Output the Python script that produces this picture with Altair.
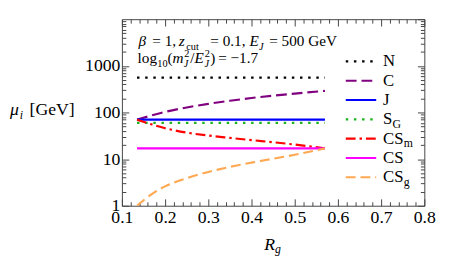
import altair as alt
import pandas as pd

# ---------------- data ----------------
rg = [0.135, 0.17, 0.2, 0.25, 0.3, 0.35, 0.4, 0.45, 0.5, 0.57]
mu_N = [560, 560, 560, 560, 560, 560, 560, 560, 560, 560]
mu_C = [70, 87, 103, 128, 153, 178, 204, 229, 254, 290]
mu_J = [70, 70, 70, 70, 70, 70, 70, 70, 70, 70]
mu_SG = [60, 60, 60, 60, 60, 60, 60, 60, 60, 60]
mu_CSm = [70, 55, 46, 37, 32, 28.5, 25.5, 23, 20.5, 17]
mu_CS = [17, 17, 17, 17, 17, 17, 17, 17, 17, 17]
mu_CSg = [1.0, 1.8, 2.6, 3.9, 5.3, 6.8, 8.4, 10.2, 12.4, 17]

series = ["N", "C", "J", "SG", "CSm", "CS", "CSg"]
values = [mu_N, mu_C, mu_J, mu_SG, mu_CSm, mu_CS, mu_CSg]
legend_main = ["N", "C", "J", "S", "CS", "CS", "CS"]
legend_sub = ["", "", "", "G", "m", "", "g"]

x_major = [0.1, 0.2, 0.3, 0.4, 0.5, 0.6, 0.7, 0.8]
x_minor = [round(0.1 + 0.02 * i, 2) for i in range(36) if i % 5 != 0]
y_major = [1, 10, 100, 1000]
y_minor = [m * 10 ** k for k in range(4) for m in range(2, 10)]

# ---------------- styles ----------------
colors = ["#000000", "#800080", "#0000FF", "#1DB31D", "#FF0000", "#FF00FF", "#FFA852"]
dashes = [[2.5, 5.8], [11, 5], [1, 0], [2.5, 5.8], [10, 4, 2.5, 4], [1, 0], [10, 5]]
FONT = "Liberation Serif"
FRAME = "#444444"

rows = []
for s, v in zip(series, values):
    for r, m in zip(rg, v):
        rows.append({"series": s, "rg": r, "mu": m})
df = pd.DataFrame(rows)

leg = pd.DataFrame({"series": series, "row": list(range(len(series))),
                    "main": legend_main, "sub": legend_sub,
                    "nlen": [len(m) for m in legend_main]})

xs = alt.Scale(domain=[0.1, 0.8], nice=False, zero=False)
ys = alt.Scale(type="log", domain=[1, 10000], nice=False)
cscale = alt.Scale(domain=series, range=colors)
dscale = alt.Scale(domain=series, range=dashes)

layers = []
for s in series:
    layers.append(
        alt.Chart(df).transform_filter(alt.datum.series == s)
        .mark_line(strokeWidth=2.2, interpolate="monotone", clip=True)
        .encode(
            x=alt.X("rg:Q", scale=xs, axis=None),
            y=alt.Y("mu:Q", scale=ys, axis=None),
            color=alt.Color("series:N", scale=cscale, legend=None),
            strokeDash=alt.StrokeDash("series:N", scale=dscale, legend=None),
        )
    )


def axis_layer(xaxis, yaxis):
    return alt.Chart(df).mark_point(opacity=0).encode(
        x=alt.X("rg:Q", scale=xs, axis=xaxis),
        y=alt.Y("mu:Q", scale=ys, axis=yaxis),
    )


common = dict(grid=False, domain=False, title=None, tickColor=FRAME, tickWidth=1,
              labelFont=FONT, labelFontSize=18, labelColor="black")

layers.append(axis_layer(
    alt.Axis(orient="bottom", values=x_major, format=".1f", tickSize=7, offset=-7,
             labelPadding=3, labelFlush=False, labelOverlap=False, **common),
    alt.Axis(orient="left", values=y_major, format="d", tickSize=7, offset=-7,
             labelPadding=2, labelOverlap=False, labelFlush=False, **common),
))
layers.append(axis_layer(
    alt.Axis(orient="bottom", values=x_minor, tickSize=4, offset=-4, labels=False, **common),
    alt.Axis(orient="left", values=y_minor, tickSize=4, offset=-4, labels=False, **common),
))
layers.append(axis_layer(
    alt.Axis(orient="top", values=x_major, tickSize=7, offset=-7, labels=False, **common),
    alt.Axis(orient="right", values=y_major + [10000], tickSize=7, offset=-7, labels=False, **common),
))
layers.append(axis_layer(
    alt.Axis(orient="top", values=x_minor, tickSize=4, offset=-4, labels=False, **common),
    alt.Axis(orient="right", values=y_minor, tickSize=4, offset=-4, labels=False, **common),
))

# legend
ly = alt.Scale(domain=[0, 6], range=[43, 161])
layers.append(
    alt.Chart(leg).mark_rule(strokeWidth=2.2).encode(
        x=alt.value(228), x2=alt.value(259),
        y=alt.Y("row:Q", scale=ly, axis=None),
        color=alt.Color("series:N", scale=cscale, legend=None),
        strokeDash=alt.StrokeDash("series:N", scale=dscale, legend=None),
    )
)
layers.append(
    alt.Chart(leg).mark_text(font=FONT, fontSize=17, align="left", baseline="middle", color="black").encode(
        x=alt.value(266), y=alt.Y("row:Q", scale=ly, axis=None), text="main:N")
)
layers.append(
    alt.Chart(leg).transform_filter(alt.datum.nlen == 1)
    .mark_text(font=FONT, fontSize=12, align="left", baseline="middle", dy=5, color="black").encode(
        x=alt.value(275.5), y=alt.Y("row:Q", scale=ly, axis=None), text="sub:N")
)
layers.append(
    alt.Chart(leg).transform_filter(alt.datum.nlen == 2)
    .mark_text(font=FONT, fontSize=12, align="left", baseline="middle", dy=5, color="black").encode(
        x=alt.value(287), y=alt.Y("row:Q", scale=ly, axis=None), text="sub:N")
)

# annotation / title pieces: (text, x, baseline y, size, italic)
A = 15.5
S = 10.5
pieces = [
    ("β", 17, 27, A, True), ("= 1,", 31, 27, A, False),
    ("z", 58, 27, A, True), ("cut", 65.5, 31, S, False),
    ("= 0.1,", 90, 27, A, False),
    ("E", 130, 27, A, True), ("J", 139.5, 31, S, True),
    ("= 500 GeV", 150, 27, A, False),
    ("log", 16, 45, A, False), ("10", 36, 49, S, False),
    ("(", 46.5, 45, A, False), ("m", 51.5, 45, A, True),
    ("2", 63.5, 38.5, S, False), ("J", 63, 49, S, True),
    ("/", 69.5, 45, A, False), ("E", 74, 45, A, True),
    ("2", 84.5, 38.5, S, False), ("J", 84, 49, S, True),
    (")", 90, 45, A, False), ("= −1.7", 98, 45, A, False),
    ("μ", -114, 98, 18, True), ("i", -104, 102, 12, True), ("[GeV]", -94, 98, 18, False),
    ("R", 145, 235, 18, True), ("g", 156, 238, 12, True),
]
for t, px, py, sz, it in pieces:
    layers.append(
        alt.Chart(pd.DataFrame({"t": [t]})).mark_text(
            font=FONT, fontSize=sz, fontStyle="italic" if it else "normal",
            align="left", baseline="alphabetic", color="black"
        ).encode(x=alt.value(px), y=alt.value(py), text="t:N")
    )

chart = alt.layer(*layers).resolve_scale(
    x="independent", y="independent", color="shared", strokeDash="shared"
).resolve_axis(x="independent", y="independent").properties(
    width=308, height=190, autosize="none",
    padding={"left": 116, "top": 9, "right": 18, "bottom": 60},
).configure_view(stroke=FRAME, strokeWidth=1).configure_axis(labelFont=FONT)

chart.save("out.html", embed_options={"renderer": "svg", "actions": False})
